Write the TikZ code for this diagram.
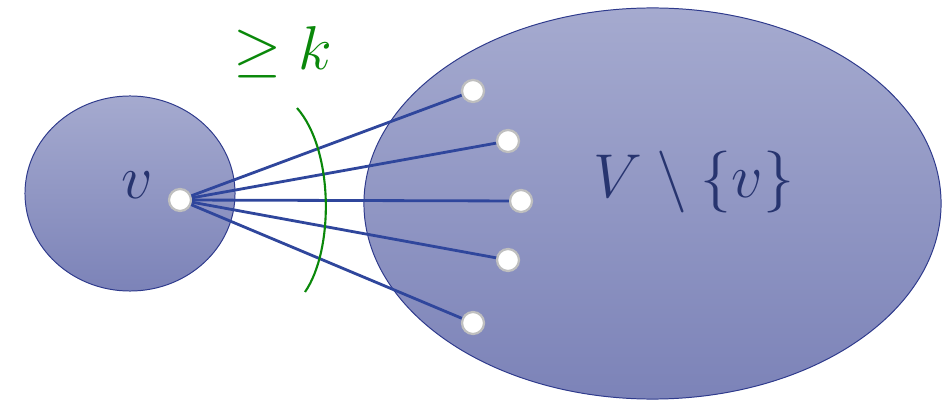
\documentclass[tikz,border=0pt]{standalone}
\usepackage{xcolor}
\usepackage{graphicx}
\usepackage{tikz}
\usetikzlibrary{shapes.geometric, positioning}
\usepackage{amsmath}
\definecolor{regiontop}{HTML}{A5AACF}
\definecolor{regionbot}{HTML}{7C83B8}
\definecolor{regionline}{HTML}{2E3A8C}
\definecolor{edgeblue}{HTML}{2F469C}
\definecolor{textblue}{HTML}{27346F}
\definecolor{cutgreen}{HTML}{0A880A}
\newcommand{\bigmath}[1]{\scalebox{1.77}{$#1$}}

\begin{document}
\begin{tikzpicture}[
  x=0.025cm, y=-0.025cm,
  region/.style={ellipse, draw=regionline, line width=0.7pt, top color=regiontop, bottom color=regionbot, inner sep=0pt},
  vtx/.style={circle, draw=black!25, line width=1.6pt, fill=white, minimum size=0.55cm, inner sep=0pt},
  edge/.style={edgeblue, line width=2pt},
  lbl/.style={font=\Huge, text=textblue, inner sep=0pt},
]
\useasboundingbox (0,0) rectangle (948,400);

% the two sides of the cut
\node[region, minimum width=5.25cm, minimum height=4.875cm] (left) at (130,193.5) {};
\node[region, minimum width=14.425cm, minimum height=9.775cm] (right) at (652.5,203.5) {};

% labels
\node[lbl] (vname) at (137,185) {\bigmath{v}};
\node[lbl] (rest) at (694,182) {\bigmath{V \setminus \{v\}}};

% vertices
\node[vtx] (v) at (180,200) {};
\node[vtx] (u1) at (473,91) {};
\node[vtx] (u2) at (508,141) {};
\node[vtx] (u3) at (521,201) {};
\node[vtx] (u4) at (508,260) {};
\node[vtx] (u5) at (473,323) {};

% edges leaving v
\foreach \u in {u1,u2,u3,u4,u5}
  \draw[edge] (v) -- (\u);

% the cut
\coordinate (cuttop) at (297,108);
\coordinate (cutbot) at (305,292);
\draw[cutgreen, line width=1.5pt] (cuttop) .. controls (334,150) and (334,250) .. (cutbot);
\node[lbl, text=cutgreen] (bound) at (283,52) {\bigmath{\geq k}};

\end{tikzpicture}
\end{document}
